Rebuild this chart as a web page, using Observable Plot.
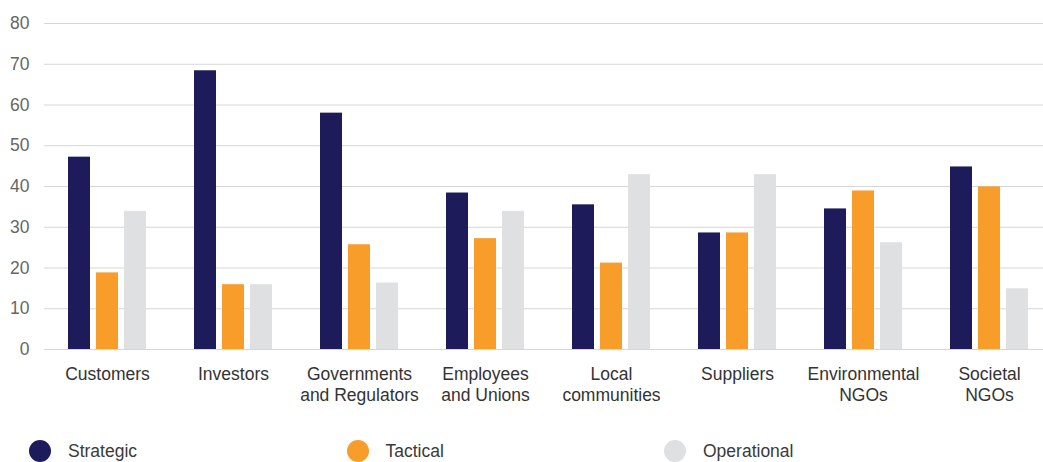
<!DOCTYPE html>
<html><head><meta charset="utf-8">
<script src="https://cdn.jsdelivr.net/npm/d3@7"></script>
<script src="https://cdn.jsdelivr.net/npm/@observablehq/plot@0.6"></script>
<style>
body{margin:0;background:#fff;font-family:"Liberation Sans",Arial,sans-serif;overflow:hidden;}
#chart svg{overflow:hidden;}
#legend{position:relative;height:22px;margin-top:15px;display:flex;align-items:center;padding-left:29px;}
.item{display:flex;align-items:center;width:317.5px;font-size:17.5px;color:#3a3a3a;}
.dot{width:22px;height:22px;border-radius:50%;margin-right:17px;flex:none;}
</style></head><body><div id="chart"></div><div id="legend"></div>
<script>
const categories = ["Customers","Investors","Governments and Regulators","Employees and Unions","Local communities","Suppliers","Environmental NGOs","Societal NGOs"];
const categoryLabels = ["Customers","Investors","Governments\nand Regulators","Employees\nand Unions","Local\ncommunities","Suppliers","Environmental\nNGOs","Societal\nNGOs"];
const series = ["Strategic","Tactical","Operational"];
const strategic = [47.2,68.4,58,38.4,35.5,28.6,34.5,44.8];
const tactical = [18.8,15.9,25.7,27.2,21.2,28.6,38.9,39.9];
const operational = [33.9,15.9,16.3,33.9,42.9,42.9,26.2,14.9];
const yTicks = [0,10,20,30,40,50,60,70,80];
const colors = ["#1e1b5a","#f89c2a","#dfe0e2"];

const values = [strategic, tactical, operational];
const data = categories.flatMap((c,i)=>values.map((arr,j)=>({category:c, series:series[j], value:arr[i]})));
const labelOf = new Map(categories.map((c,i)=>[c,categoryLabels[i]]));

const plot = Plot.plot({
  width:1043, height:425, marginTop:23, marginBottom:76, marginLeft:45, marginRight:0,
  style:{fontFamily:'"Liberation Sans",Arial,sans-serif', fontSize:"17.5px", background:"#fff"},
  fx:{domain:categories, range:[43,1053], padding:0, label:null},
  x:{domain:series, paddingInner:0.227, paddingOuter:0.852, axis:null},
  y:{domain:[0,80], label:null},
  color:{domain:series, range:colors},
  marks:[
    Plot.gridY(yTicks,{stroke:"#d6d6d6", strokeOpacity:1}),
    Plot.axisY(yTicks,{anchor:"left", tickSize:0, tickPadding:15, fill:"#666", label:null}),
    Plot.barY(data,{fx:"category", x:"series", y:"value", fill:"series"}),
    Plot.axisFx({anchor:"bottom", tickSize:0, tickPadding:16, tickFormat:d=>labelOf.get(d), lineHeight:1.17, fill:"#333", label:null})
  ]
});
document.getElementById("chart").appendChild(plot);

const legend = document.getElementById("legend");
series.forEach((s,i)=>{
  const item = document.createElement("div"); item.className="item";
  const dot = document.createElement("span"); dot.className="dot"; dot.style.background=colors[i];
  const t = document.createElement("span"); t.textContent=s;
  item.appendChild(dot); item.appendChild(t); legend.appendChild(item);
});
</script></body></html>
